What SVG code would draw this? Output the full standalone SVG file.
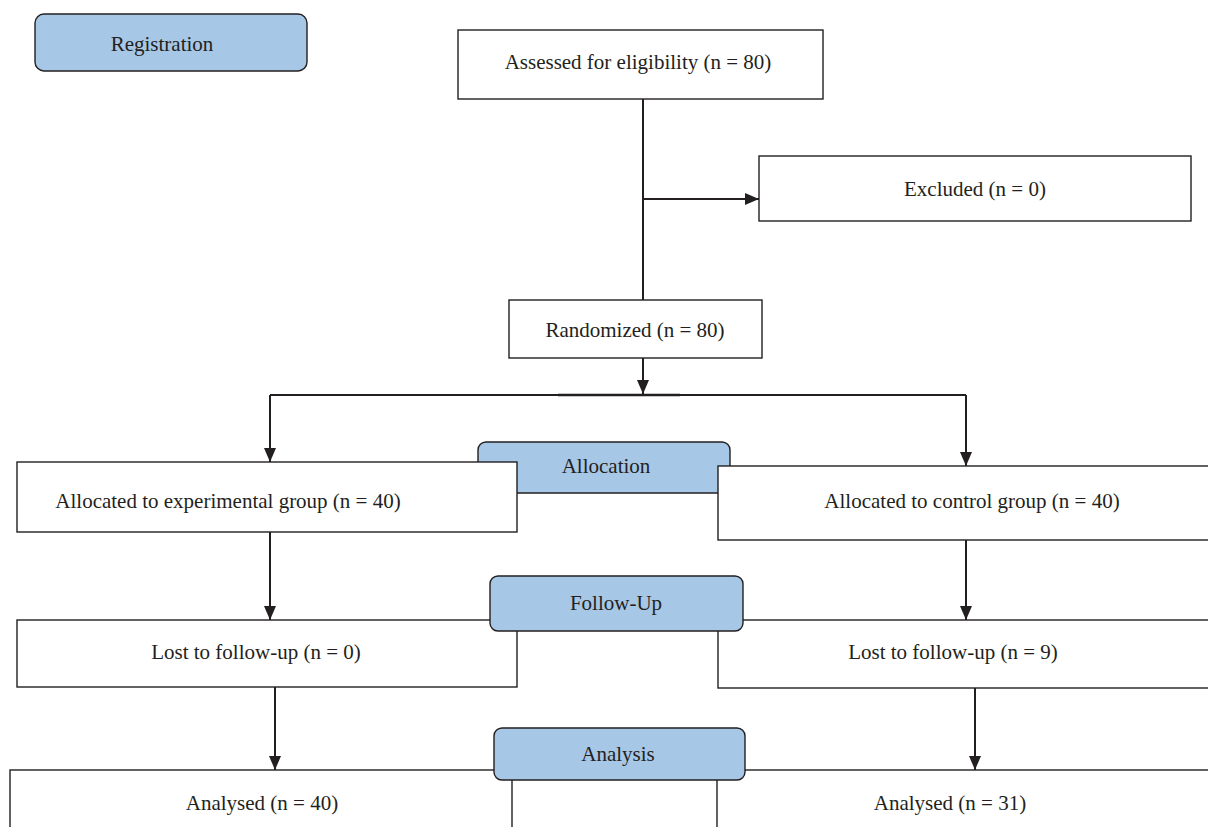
<svg xmlns="http://www.w3.org/2000/svg" width="1208" height="827" viewBox="0 0 1208 827">
<style>
.box{fill:#fff;stroke:#231f20;stroke-width:1.4}
.stage{fill:#a7c7e7;stroke:#231f20;stroke-width:1.4}
.t{font-family:"Liberation Serif",serif;font-size:21px;fill:#231f20;text-anchor:middle;dominant-baseline:central}
.c{fill:none;stroke:#231f20;stroke-width:2}
</style>
<defs>
<marker id="ah" markerWidth="14" markerHeight="12" refX="14" refY="6" orient="auto" markerUnits="userSpaceOnUse" viewBox="0 0 14 12">
<path d="M0,0 L14,6 L0,12 Z" fill="#231f20"/>
</marker>
</defs>
<rect width="1208" height="827" fill="#fff"/>
<g id="registration"><rect class="stage" x="35" y="14" width="272" height="57" rx="9"/><text class="t" x="162" y="44">Registration</text></g>
<g id="assessed"><rect class="box" x="458" y="30" width="365" height="69"/><text class="t" x="638" y="62">Assessed for eligibility (n = 80)</text></g>
<g id="excluded"><rect class="box" x="759" y="156" width="432" height="65"/><text class="t" x="975" y="189">Excluded  (n = 0)</text></g>
<g id="randomized"><rect class="box" x="509" y="300" width="253" height="58"/><text class="t" x="635" y="330">Randomized (n = 80)</text></g>
<g id="allocation"><rect class="stage" x="478" y="442" width="252" height="51" rx="8"/><text class="t" x="606" y="466">Allocation</text></g>
<g id="alloc-exp"><rect class="box" x="17" y="462" width="500" height="70"/><text class="t" x="228" y="501">Allocated to experimental group (n = 40)</text></g>
<g id="alloc-ctrl"><rect class="box" x="718" y="466" width="500" height="74"/><text class="t" x="972" y="501">Allocated to control group (n = 40)</text></g>
<g id="lost-exp"><rect class="box" x="17" y="620" width="500" height="67"/><text class="t" x="256" y="652">Lost to follow-up (n = 0)</text></g>
<g id="lost-ctrl"><rect class="box" x="718" y="620" width="500" height="68"/><text class="t" x="953" y="652">Lost to follow-up (n = 9)</text></g>
<g id="followup"><rect class="stage" x="490" y="576" width="253" height="55" rx="8"/><text class="t" x="616" y="603">Follow-Up</text></g>
<g id="analysed-exp"><rect class="box" x="10" y="770" width="502" height="70"/><text class="t" x="262" y="803">Analysed (n = 40)</text></g>
<g id="analysed-ctrl"><rect class="box" x="717" y="770" width="500" height="70"/><text class="t" x="950" y="803">Analysed (n = 31)</text></g>
<g id="analysis"><rect class="stage" x="494" y="728" width="251" height="52" rx="8"/><text class="t" x="618" y="754">Analysis</text></g>
<g id="connectors">
<line class="c" x1="643" y1="99" x2="643" y2="300"/>
<line class="c" x1="643" y1="199" x2="759" y2="199" marker-end="url(#ah)"/>
<line class="c" x1="643" y1="358" x2="643" y2="394" marker-end="url(#ah)"/>
<path class="c" d="M270,395 H966"/>
<line x1="558" y1="395" x2="680" y2="395" stroke="#231f20" stroke-width="2.6"/>
<line class="c" x1="270" y1="395" x2="270" y2="462" marker-end="url(#ah)"/>
<line class="c" x1="966" y1="395" x2="966" y2="466" marker-end="url(#ah)"/>
<line class="c" x1="270" y1="532" x2="270" y2="620" marker-end="url(#ah)"/>
<line class="c" x1="966" y1="540" x2="966" y2="620" marker-end="url(#ah)"/>
<line class="c" x1="275" y1="687" x2="275" y2="770" marker-end="url(#ah)"/>
<line class="c" x1="975" y1="688" x2="975" y2="770" marker-end="url(#ah)"/>
</g>
</svg>
